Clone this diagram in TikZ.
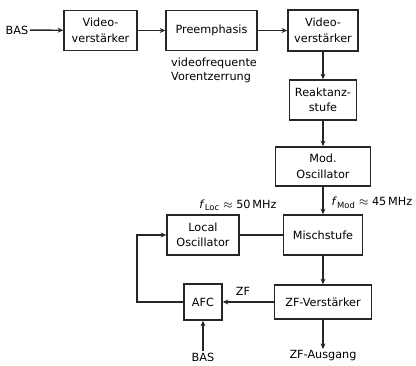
\documentclass[tikz,border=0pt]{standalone}
\usepackage{fontspec}
\setmainfont{DejaVu Sans}
\usepackage{tikz}
\usetikzlibrary{arrows.meta,positioning}
\tikzset{
  blockbox/.style={rectangle,draw=black!85,line width=1pt,align=center,
                   font=\fontsize{8}{11}\selectfont,inner sep=1pt},
  lbl/.style={align=center,font=\fontsize{8}{10}\selectfont,inner sep=1pt},
  arr/.style={-{Stealth[length=4pt,width=3.5pt]},line width=1pt,color=black!85},
  ln/.style={line width=1pt,color=black!85}
}
\begin{document}
\begin{tikzpicture}[x=0.025cm,y=-0.025cm]
  \useasboundingbox (0,0) rectangle (416,366);
  % top row
  \node[lbl] (basin) at (17,30) {BAS};
  \node[blockbox,minimum width=1.825cm,minimum height=1cm] (vid1) at (100.5,30.5) {Video-\\verstärker};
  \node[blockbox,minimum width=2.275cm,minimum height=1cm] (preemph) at (211.5,30.5) {Preemphasis};
  \node[lbl,align=left] (vorentz) at (214,70) {videofrequente\\Vorentzerrung};
  \node[blockbox,minimum width=1.75cm,minimum height=1.025cm] (vid2) at (323,30.5) {Video-\\verstärker};
  % right column
  \node[blockbox,minimum width=1.675cm,minimum height=1cm] (reakt) at (323,100) {Reaktanz-\\stufe};
  \node[blockbox,minimum width=2.375cm,minimum height=0.975cm] (modosc) at (323,166.5) {Mod.\\Oscillator};
  \node[blockbox,minimum width=1.975cm,minimum height=1cm] (misch) at (323,235) {Mischstufe};
  \node[blockbox,minimum width=1.8cm,minimum height=1cm] (locosc) at (203,235) {Local\\Oscillator};
  \node[blockbox,minimum width=2.425cm,minimum height=0.85cm] (zfv) at (323,302) {ZF-Verstärker};
  \node[blockbox,minimum width=0.95cm,minimum height=0.9cm] (afc) at (203,302) {AFC};
  % labels
  \node[lbl] (floc) at (238,205) {\textit{f}\textsubscript{Loc} $\approx$ 50\,MHz};
  \node[lbl,anchor=west] (fmod) at (330,203) {\textit{f}\textsubscript{Mod} $\approx$ 45\,MHz};
  \node[lbl] (zflbl) at (243,291) {ZF};
  \node[lbl] (basafc) at (203,357) {BAS};
  \node[lbl] (zfaus) at (323,356) {ZF-Ausgang};
  \coordinate (afcleft) at (137,302);
  % connectors
  \draw[arr] (basin) -- (vid1);
  \draw[arr] (vid1) -- (preemph);
  \draw[arr] (preemph) -- (vid2);
  \draw[arr] (vid2) -- (reakt);
  \draw[arr] (reakt) -- (modosc);
  \draw[arr] (modosc) -- (misch);
  \draw[ln] (locosc) -- (misch);
  \draw[arr] (misch) -- (zfv);
  \draw[arr] (zfv) -- (afc);
  \draw[arr] (afc.west) -- (afcleft) |- (locosc.west);
  \draw[arr] (basafc) -- (afc);
  \draw[arr] (zfv) -- (zfaus);
\end{tikzpicture}
\end{document}
